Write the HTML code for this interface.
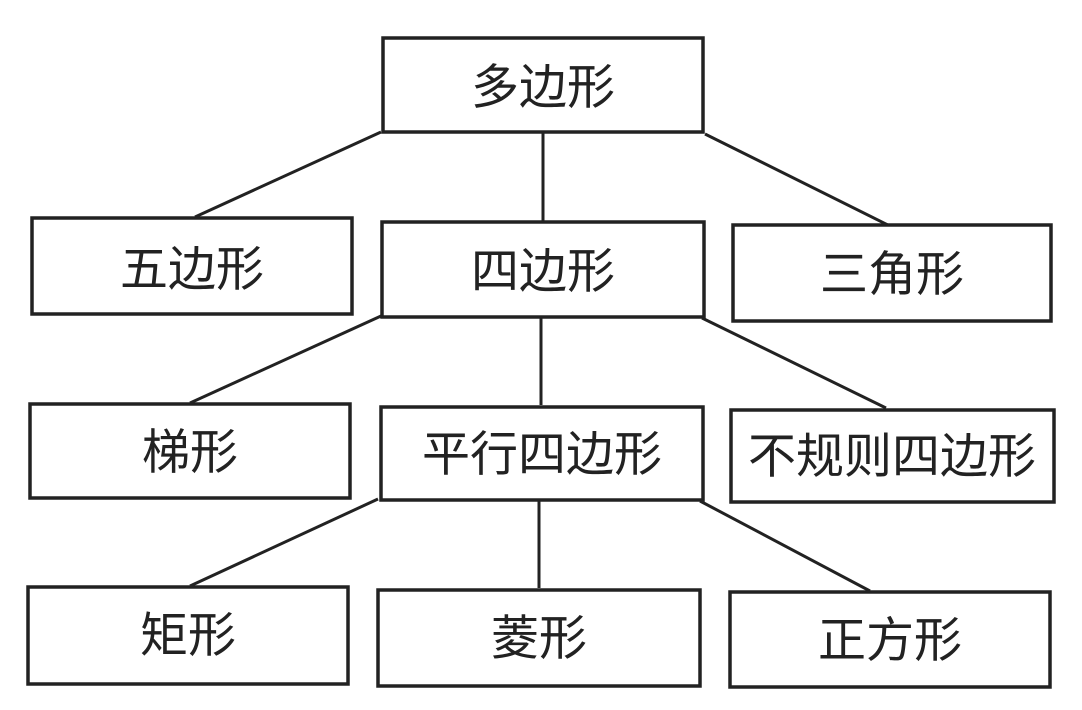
<!DOCTYPE html>
<html><head><meta charset="utf-8"><style>
html,body{margin:0;padding:0;background:#fff;}
svg{display:block}
text{font-family:"Liberation Sans","Noto Sans CJK SC",sans-serif;font-size:48px;fill:#222;text-anchor:middle;dominant-baseline:central;}
</style></head><body>
<svg width="1082" height="710" viewBox="0 0 1082 710">
<g stroke="#222" stroke-width="3" fill="none">
<line x1="381" y1="132" x2="195" y2="217"/>
<line x1="543" y1="132" x2="543" y2="221"/>
<line x1="705" y1="134" x2="890" y2="226"/>
<line x1="381" y1="316" x2="190" y2="403"/>
<line x1="541" y1="316" x2="541" y2="405"/>
<line x1="702" y1="318" x2="886" y2="408"/>
<line x1="378" y1="499" x2="190" y2="586"/>
<line x1="539" y1="499" x2="539" y2="588"/>
<line x1="700" y1="501" x2="870" y2="591"/>
</g>
<g stroke="#222" stroke-width="3.5" fill="#fff">
<rect x="383" y="38" width="320" height="94"/>
<rect x="32" y="218" width="320" height="96"/>
<rect x="382" y="222" width="322" height="95"/>
<rect x="733" y="225" width="318" height="96"/>
<rect x="30" y="404" width="320" height="94"/>
<rect x="381" y="407" width="322" height="93"/>
<rect x="731" y="410" width="323" height="92"/>
<rect x="28" y="587" width="320" height="97"/>
<rect x="378" y="590" width="322" height="96"/>
<rect x="730" y="592" width="320" height="95"/>
</g>
<text x="543" y="88">多边形</text>
<text x="192" y="270">五边形</text>
<text x="543" y="272">四边形</text>
<text x="892" y="275">三角形</text>
<text x="190" y="453">梯形</text>
<text x="542" y="455">平行四边形</text>
<text x="892" y="457">不规则四边形</text>
<text x="188" y="636">矩形</text>
<text x="539" y="639">菱形</text>
<text x="890" y="641">正方形</text>
</svg>
</body></html>
